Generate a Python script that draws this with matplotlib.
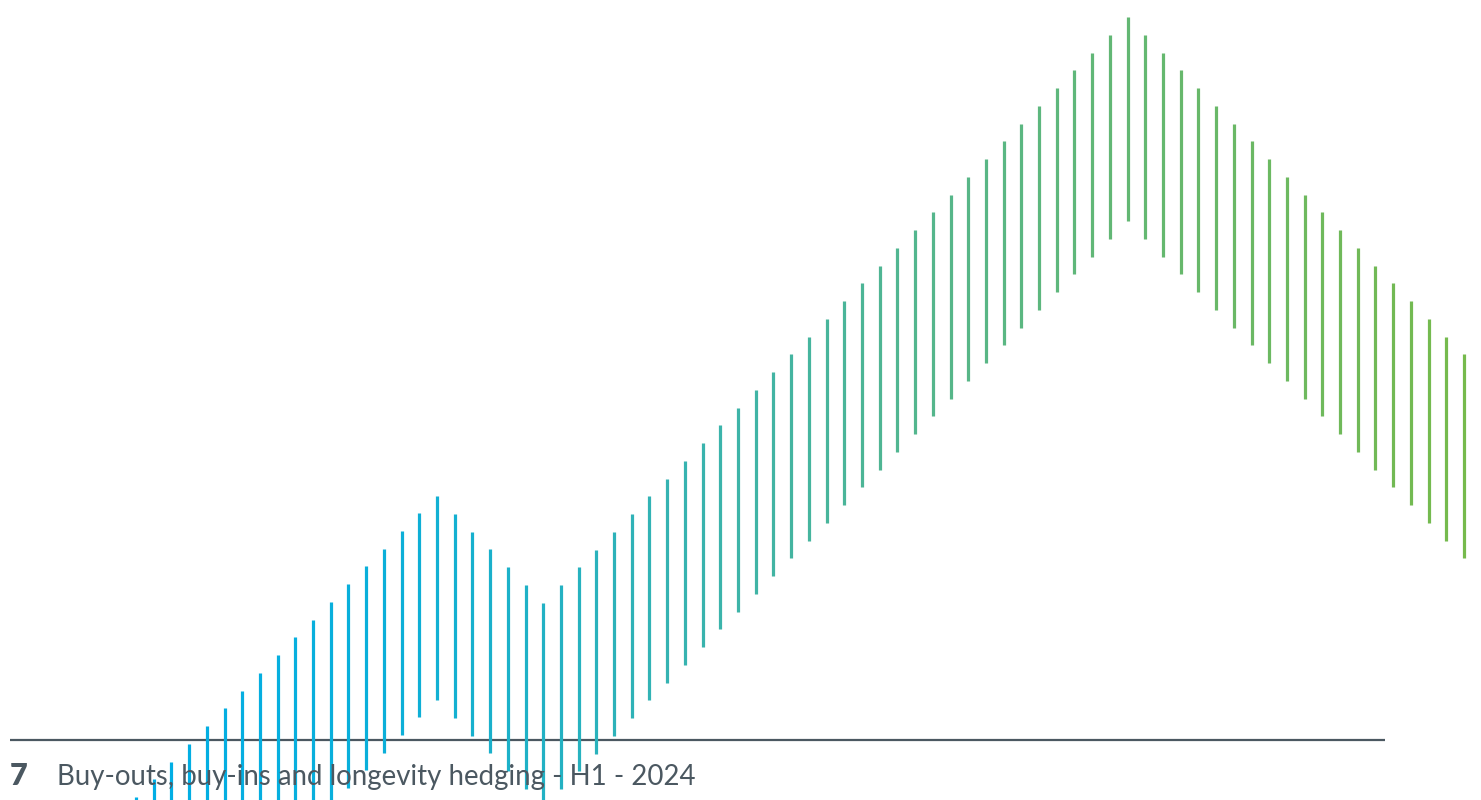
import matplotlib.pyplot as plt
from matplotlib.colors import LinearSegmentedColormap

# line tops / bottoms (pixels above the bottom edge)
tops = [3, 21, 38, 56, 74, 92, 109, 127, 145, 163, 180, 198, 216, 234, 251, 269, 287, 304,
        286, 268, 251, 233, 215, 197,
        215, 233, 250, 268, 286, 304, 321, 339, 357, 375, 392, 410, 428, 446, 463, 481,
        499, 517, 534, 552, 570, 588, 605, 623, 641, 659, 676, 694, 712, 730, 747, 765, 783,
        765, 747, 730, 712, 694, 676, 659, 641, 623, 605, 588, 570, 552, 534, 517, 499, 481,
        463, 446]
bottoms = [-201, -183, -166, -148, -130, -112, -95, -77, -59, -41, -24, -6, 12, 30, 47, 65, 83, 100,
           82, 64, 47, 29, 11, -7,
           11, 29, 46, 64, 82, 100, 117, 135, 153, 171, 188, 206, 224, 242, 259, 277,
           295, 313, 330, 348, 366, 384, 401, 419, 437, 455, 472, 490, 508, 526, 543, 561, 579,
           561, 543, 526, 508, 490, 472, 455, 437, 419, 401, 384, 366, 348, 330, 313, 295, 277,
           259, 242]
positions = list(range(len(tops)))

title_num = "7"
title_text = "Buy-outs, buy-ins and longevity hedging - H1 - 2024"

cmap = LinearSegmentedColormap.from_list(
    "blue_green", ["#00aee6", "#0cafd8", "#35b3b2", "#55b68c", "#68b86a", "#76ba4c"])

fig = plt.figure(figsize=(14.81, 8), dpi=100)
ax = fig.add_axes([0, 0, 1, 1])
step = (1464 - 136) / 75
ax.set_xlim(-136 / step, (1481 - 136) / step)
ax.set_ylim(0, 800)
ax.axis("off")

# base rule and caption sit under the lines
ax.plot([-126 / step, (1385 - 136) / step], [60, 60], color="#4b5861", lw=1.6,
        solid_capstyle="butt", zorder=1)
fig.text(10 / 1481, 15 / 800, title_num, fontsize=22, fontweight="heavy",
         color="#4b5861", family=["Lato", "DejaVu Sans"], zorder=1)
fig.text(57 / 1481, 15 / 800, title_text, fontsize=19.9, fontweight="normal",
         color="#4b5861", family=["Lato", "DejaVu Sans"], zorder=1)

n = len(positions)
colors = [cmap(i / (n - 1)) for i in range(n)]
ax.vlines(positions, bottoms, tops, colors=colors, lw=2.3, zorder=3)

fig.savefig("out.png", dpi=100)
